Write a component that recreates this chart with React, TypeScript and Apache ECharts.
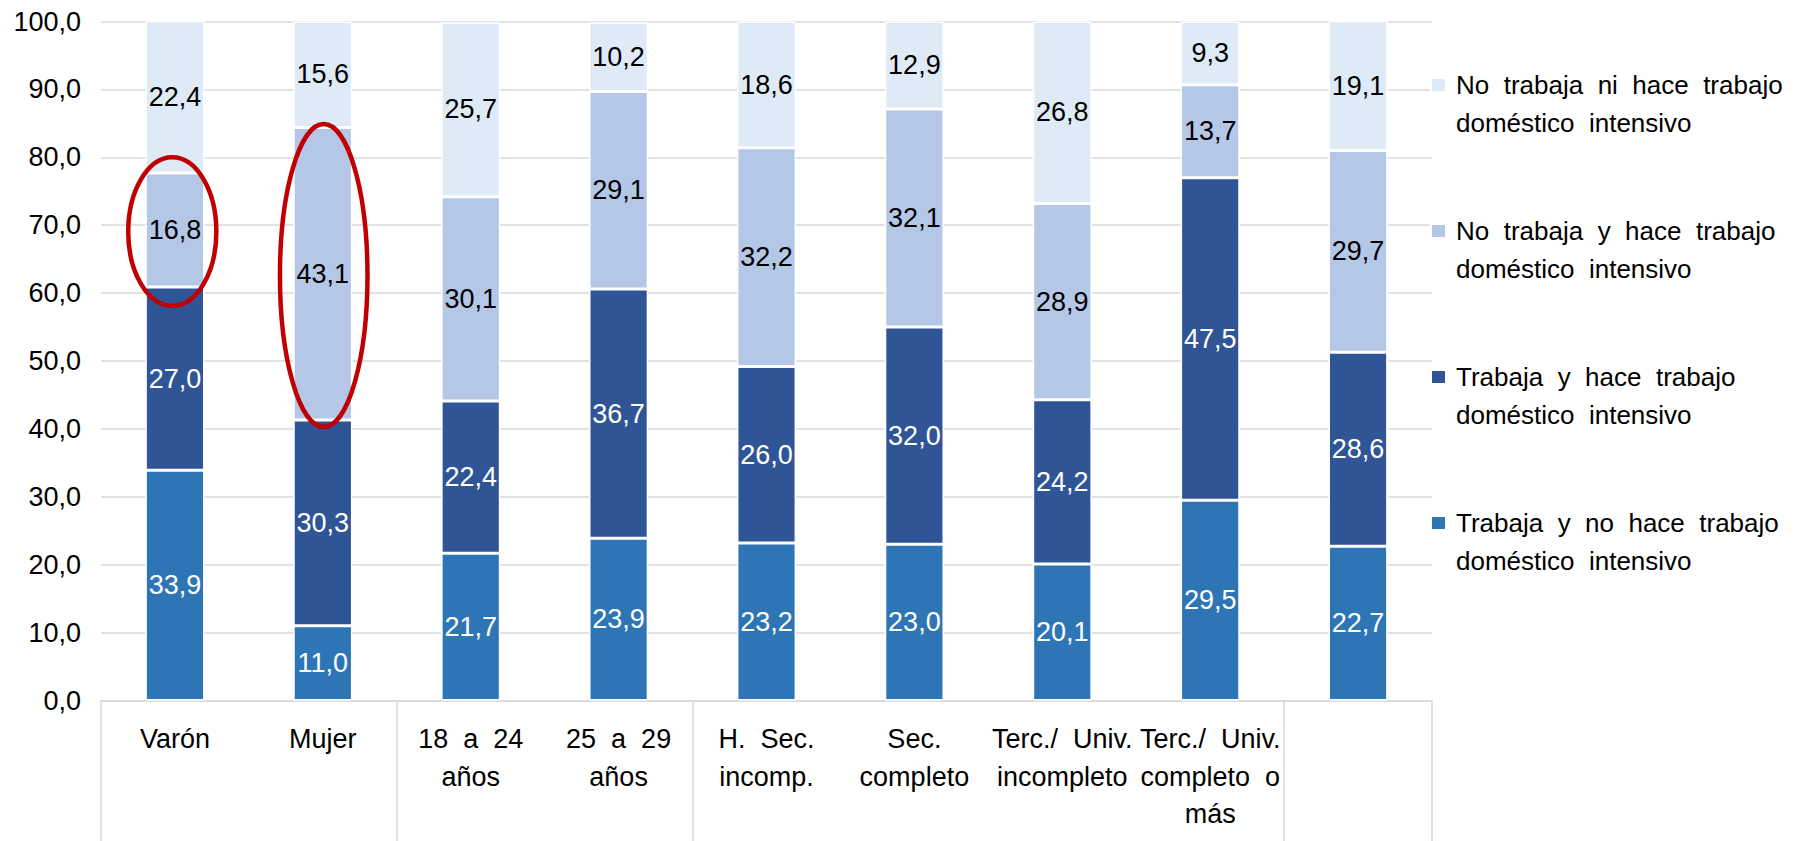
import React, { useEffect, useRef } from 'react';
import * as echarts from 'echarts';

const categories = [
  'Varón',
  'Mujer',
  '18  a  24\naños',
  '25  a  29\naños',
  'H.  Sec.\nincomp.',
  'Sec.\ncompleto',
  'Terc./  Univ.\nincompleto',
  'Terc./  Univ.\ncompleto  o\nmás',
  '',
];

const seriesNames = [
  'Trabaja y no hace trabajo doméstico intensivo',
  'Trabaja y hace trabajo doméstico intensivo',
  'No trabaja y hace trabajo doméstico intensivo',
  'No trabaja ni hace trabajo doméstico intensivo',
];

const legendTexts = [
  'Trabaja  y  no  hace  trabajo\ndoméstico  intensivo',
  'Trabaja  y  hace  trabajo\ndoméstico  intensivo',
  'No  trabaja  y  hace  trabajo\ndoméstico  intensivo',
  'No  trabaja  ni  hace  trabajo\ndoméstico  intensivo',
];

const trabajaNoDomestico = [33.9, 11.0, 21.7, 23.9, 23.2, 23.0, 20.1, 29.5, 22.7];
const trabajaDomestico = [27.0, 30.3, 22.4, 36.7, 26.0, 32.0, 24.2, 47.5, 28.6];
const noTrabajaDomestico = [16.8, 43.1, 30.1, 29.1, 32.2, 32.1, 28.9, 13.7, 29.7];
const noTrabajaNiDomestico = [22.4, 15.6, 25.7, 10.2, 18.6, 12.9, 26.8, 9.3, 19.1];

const seriesColors = ['#2E75B6', '#2F5597', '#B4C7E7', '#DEEBF7'];
const labelColors = ['#FFFFFF', '#FFFFFF', '#000000', '#000000'];

// group separators on the category axis (tick indices at category boundaries)
const groupBoundaryTicks = [0, 2, 4, 8];

// highlighted segments: category index, value range, half width and centre shift in bands
const highlights = [
  { cat: 0, lo: 58.1, hi: 80.0, half: 0.298, shift: -0.018 },
  { cat: 1, lo: 40.3, hi: 84.9, half: 0.296, shift: 0.006 },
];

const FONT = '"Liberation Sans", Arial, Helvetica, sans-serif';
const fmt = (v: number) => v.toFixed(1).replace('.', ',');

export default function App() {
  const ref = useRef<HTMLDivElement>(null);

  useEffect(() => {
    document.body.style.margin = '0';
    if (!ref.current) return;
    const chart = echarts.init(ref.current, undefined, { renderer: 'svg' });
    const values = [trabajaNoDomestico, trabajaDomestico, noTrabajaDomestico, noTrabajaNiDomestico];

    chart.setOption({
      animation: false,
      backgroundColor: '#ffffff',
      textStyle: { fontFamily: FONT },
      grid: { left: 101, right: 372, top: 21.5, bottom: 140.5, containLabel: false },
      legend: {
        orient: 'vertical',
        left: 1430,
        top: 28.75,
        padding: 0,
        itemWidth: 15,
        itemHeight: 14,
        itemGap: 33.5,
        icon: 'rect',
        selectedMode: false,
        data: [seriesNames[3], seriesNames[2], seriesNames[1], seriesNames[0]],
        // a blank first line keeps the marker level with the first text line
        formatter: (name: string) => ' \n' + legendTexts[seriesNames.indexOf(name)],
        textStyle: {
          fontFamily: FONT,
          fontSize: 26,
          lineHeight: 37.5,
          color: '#000',
          padding: [0, 0, 0, 5],
        },
      },
      xAxis: {
        type: 'category',
        data: categories,
        axisLine: { lineStyle: { color: '#D9D9D9', width: 1.5 } },
        axisTick: {
          show: true,
          length: 141,
          interval: (index: number) => groupBoundaryTicks.includes(index),
          lineStyle: { color: '#D9D9D9', width: 1.5 },
        },
        axisLabel: {
          interval: 0,
          margin: 20,
          fontFamily: FONT,
          fontSize: 27,
          lineHeight: 37.5,
          color: '#000',
        },
      },
      yAxis: {
        type: 'value',
        min: 0,
        max: 100,
        interval: 10,
        axisLine: { show: false },
        axisTick: { show: false },
        splitLine: { lineStyle: { color: '#D9D9D9', width: 1.5 } },
        axisLabel: {
          margin: 20,
          fontFamily: FONT,
          fontSize: 27,
          color: '#000',
          formatter: (v: number) => fmt(v),
        },
      },
      series: values.map((data, i) => ({
        name: seriesNames[i],
        type: 'bar',
        stack: 'total',
        barWidth: '40%',
        data,
        itemStyle: { color: seriesColors[i], borderColor: '#FFFFFF', borderWidth: 1.5 },
        label: {
          show: true,
          position: 'inside',
          fontFamily: FONT,
          fontSize: 27,
          color: labelColors[i],
          formatter: (p: any) => fmt(p.value),
        },
      })),
    });

    const band =
      chart.convertToPixel({ gridIndex: 0 }, [1, 0])[0] - chart.convertToPixel({ gridIndex: 0 }, [0, 0])[0];
    chart.setOption({
      graphic: highlights.map((h) => {
        const top = chart.convertToPixel({ gridIndex: 0 }, [h.cat, h.hi]);
        const bottom = chart.convertToPixel({ gridIndex: 0 }, [h.cat, h.lo]);
        return {
          type: 'ellipse',
          z: 100,
          shape: {
            cx: top[0] + band * h.shift,
            cy: (top[1] + bottom[1]) / 2,
            rx: band * h.half,
            ry: (bottom[1] - top[1]) / 2,
          },
          style: { fill: 'none', stroke: '#C00000', lineWidth: 4.5 },
        };
      }),
    });

    return () => chart.dispose();
  }, []);

  return <div ref={ref} style={{ width: 1804, height: 841 }} />;
}
